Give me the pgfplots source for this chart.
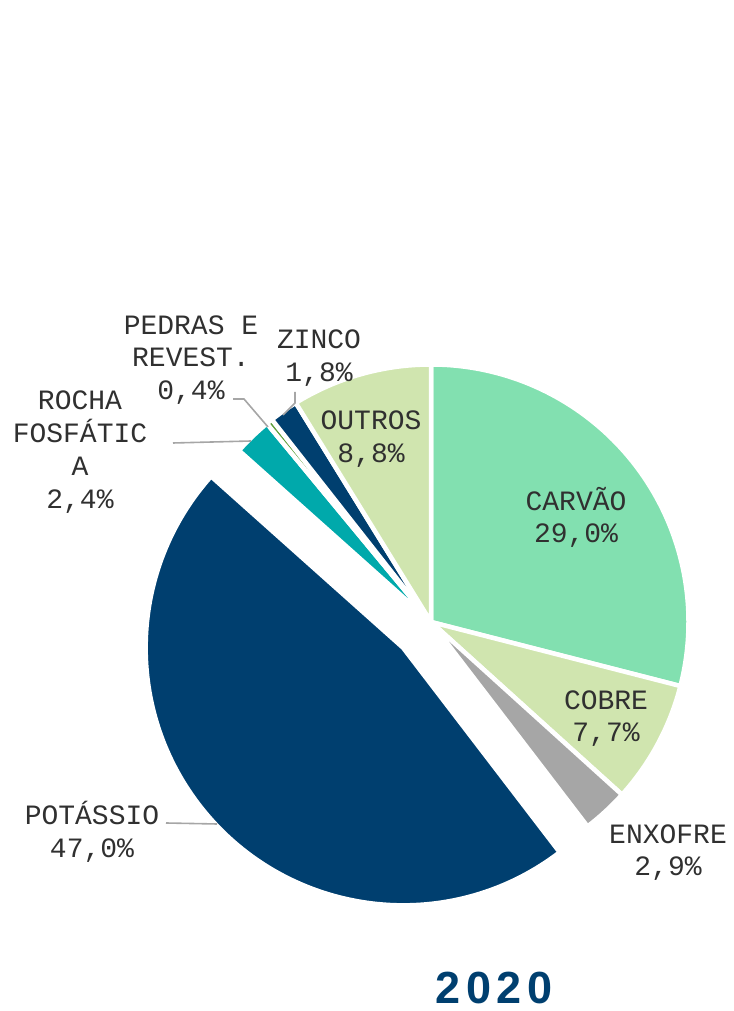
\documentclass[border=0pt]{standalone}
\usepackage{fontspec}
\setmainfont{Liberation Mono}
\newfontfamily\titlefont[LetterSpace=13]{Liberation Sans}
\usepackage{pgfplots}
\pgfplotsset{compat=1.18}
\definecolor{cCarvao}{HTML}{82E0B0}
\definecolor{cCobre}{HTML}{D0E5AF}
\definecolor{cEnx}{HTML}{A6A6A6}
\definecolor{cPot}{HTML}{003F6F}
\definecolor{cRocha}{HTML}{00A9AB}
\definecolor{cPedras}{HTML}{5E9E3A}
\definecolor{cZinco}{HTML}{003F6F}
\definecolor{cOutros}{HTML}{D0E5AF}
\definecolor{cText}{HTML}{303030}
\definecolor{cLead}{HTML}{A6A6A6}
\definecolor{cTitle}{HTML}{003F6F}
\newcommand{\lab}[3]{\node[anchor=base,inner sep=0pt,text=cText,font=\fontsize{28bp}{33bp}\selectfont] at (axis cs:#1,#2) {#3};}
\begin{document}
\begin{tikzpicture}
\begin{axis}[xmin=0,xmax=733,ymin=0,ymax=1011,width=733bp,height=1011bp,
  scale only axis,hide axis,clip=false]
\path (axis cs:0,0) rectangle (axis cs:733,1011);
\gdef\cum{0}
\foreach \v/\c/\e in {29.0/cCarvao/0, 7.7/cCobre/0, 2.9/cEnx/0, 47.0/cPot/38,
  2.4/cRocha/0, 0.4/cPedras/0, 1.8/cZinco/0, 8.8/cOutros/0}{
  \pgfmathsetmacro{\sa}{90-3.6*\cum}
  \pgfmathsetmacro{\ea}{90-3.6*(\cum+\v)}
  \pgfmathsetmacro{\ma}{(\sa+\ea)/2}
  \pgfmathsetmacro{\px}{431+\e*cos(\ma)}
  \pgfmathsetmacro{\py}{389+\e*sin(\ma)}
  \edef\temp{\noexpand\filldraw[fill=\c,draw=white,line width=4.5bp,line join=miter]
    (axis cs:\px,\py) -- ++(\sa:257.5bp) arc[start angle=\sa,end angle=\ea,radius=257.5bp] -- cycle;}
  \temp
  \pgfmathsetmacro{\newcum}{\cum+\v}
  \xdef\cum{\newcum}
}
% leader lines
\draw[cLead,line width=1.6bp] (axis cs:166,188) -- (axis cs:217,187);
\draw[cLead,line width=1.6bp] (axis cs:173,568) -- (axis cs:251,570);
\draw[cLead,line width=1.6bp] (axis cs:233,612) -- (axis cs:244,612) -- (axis cs:268,584);
\draw[cLead,line width=1.6bp] (axis cs:295,619) -- (axis cs:295,608) -- (axis cs:283,596);
% labels
\lab{576}{500}{CARVÃO}
\lab{576}{468}{29,0\%}
\lab{606}{301}{COBRE}
\lab{606}{269}{7,7\%}
\lab{668}{167}{ENXOFRE}
\lab{668}{135}{2,9\%}
\lab{92}{186}{POTÁSSIO}
\lab{92}{153}{47,0\%}
\lab{80}{601}{ROCHA}
\lab{80}{568}{FOSFÁTIC}
\lab{80}{535}{A}
\lab{80}{502}{2,4\%}
\lab{191}{676}{PEDRAS E}
\lab{191}{644}{REVEST.}
\lab{191}{611}{0,4\%}
\lab{319}{662}{ZINCO}
\lab{319}{629}{1,8\%}
\lab{371}{581}{OUTROS}
\lab{371}{548}{8,8\%}
\node[anchor=base,inner sep=0pt,text=cTitle,font=\titlefont\bfseries\fontsize{45bp}{50bp}\selectfont] at (axis cs:494,7) {2020};
\end{axis}
\end{tikzpicture}
\end{document}
